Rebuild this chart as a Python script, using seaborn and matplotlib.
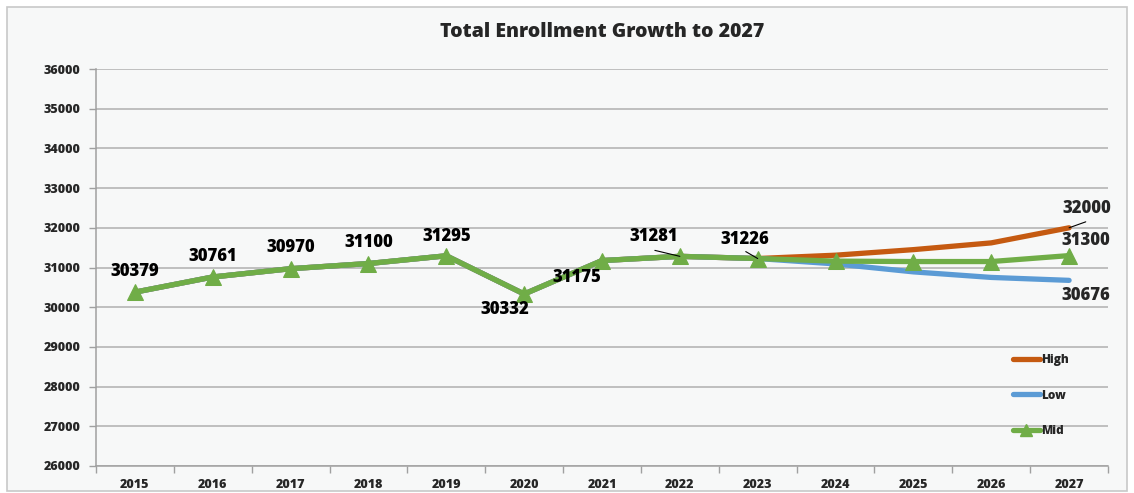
import matplotlib
matplotlib.use("Agg")
import matplotlib.pyplot as plt
import seaborn as sns
import pandas as pd
from matplotlib.patches import Rectangle
from matplotlib.lines import Line2D

years = ["2015", "2016", "2017", "2018", "2019", "2020", "2021", "2022", "2023", "2024", "2025", "2026", "2027"]
high = [30379, 30761, 30970, 31100, 31295, 30332, 31175, 31281, 31226, 31310, 31450, 31620, 32000]
low = [30379, 30761, 30970, 31100, 31295, 30332, 31175, 31281, 31226, 31090, 30890, 30750, 30676]
mid = [30379, 30761, 30970, 31100, 31295, 30332, 31175, 31281, 31226, 31160, 31150, 31150, 31300]

mid_label_idx = list(range(9))
end_labels = {"High": 32000, "Mid": 31300, "Low": 30676}

sns.set_theme(style="white")
plt.rcParams['font.family'] = ['Open Sans', 'DejaVu Sans']
W = "heavy"
plt.rcParams['font.weight'] = W

fig = plt.figure(figsize=(11.34, 4.93), dpi=100, facecolor="white")
fig.patches.append(Rectangle((7/1134, 2/493), 1120/1134, 484/493, transform=fig.transFigure,
                             facecolor="#f7f8f8", edgecolor="#c8c8c8", linewidth=1.2, zorder=-10))
ax = fig.add_axes([96/1134, 1-466/493, 1012/1134, 397/493])
ax.set_facecolor("none")

x = list(range(len(years)))
df = pd.DataFrame({"x": x, "High": high, "Low": low, "Mid": mid})

c_high, c_low, c_mid = "#c55a11", "#5b9bd5", "#70ad47"
sns.lineplot(data=df, x="x", y="High", ax=ax, color=c_high, linewidth=3.8, zorder=3)
sns.lineplot(data=df, x="x", y="Low", ax=ax, color=c_low, linewidth=3.8, zorder=3)
sns.lineplot(data=df, x="x", y="Mid", ax=ax, color=c_mid, linewidth=3.8, marker="^",
             markersize=11, markeredgecolor=c_mid, zorder=4)

ax.set_ylim(26000, 36000)
ax.set_xlim(-0.5, len(years) - 0.5)
ax.set_yticks(range(26000, 36001, 1000))
ax.set_yticklabels([str(v) for v in range(26000, 36001, 1000)], fontsize=9, fontweight=W)
ax.set_xticks([i - 0.5 for i in range(len(years) + 1)])
ax.set_xticklabels([])
ax.set_xticks(x, minor=True)
ax.set_xticklabels(years, minor=True, fontsize=9, fontweight=W)
ax.tick_params(axis="x", which="major", length=5, color="#a0a0a0", width=1, direction="out", bottom=True)
ax.tick_params(axis="x", which="minor", length=0, pad=9)
ax.tick_params(axis="y", length=5, color="#a0a0a0", width=1, left=True, pad=6)
ax.set_xlabel("")
ax.set_ylabel("")
ax.grid(axis="y", color="#b0b0b0", linewidth=1.1)
ax.grid(axis="x", visible=False)
ax.set_axisbelow(True)
for s in ["top", "right"]:
    ax.spines[s].set_visible(False)
for s in ["left", "bottom"]:
    ax.spines[s].set_color("#a0a0a0")
    ax.spines[s].set_linewidth(1.1)

ax.set_title("Total Enrollment Growth to 2027", fontsize=14, fontweight=W, pad=23)

lab_fs = 12
offsets = {0: (0, 15), 1: (0, 15), 2: (0, 15), 3: (0, 15), 4: (0, 14),
           5: (-14, -11), 6: (-18, -12), 7: (-19, 14), 8: (-9, 14)}
for i in mid_label_idx:
    dx, dy = offsets[i]
    ax.annotate(str(mid[i]), xy=(x[i], mid[i]), xytext=(dx, dy), textcoords="offset points",
                ha="center", va="center", fontsize=lab_fs, fontweight=W, color="black", zorder=6)

last = len(years) - 1
ax.annotate(str(end_labels["High"]), xy=(x[last], high[last]), xytext=(13, 14), textcoords="offset points",
            ha="center", va="center", fontsize=lab_fs, fontweight=W, zorder=6)
ax.annotate(str(end_labels["Mid"]), xy=(x[last], mid[last]), xytext=(12, 11), textcoords="offset points",
            ha="center", va="center", fontsize=lab_fs, fontweight=W, zorder=6)
ax.annotate(str(end_labels["Low"]), xy=(x[last], low[last]), xytext=(12, -11), textcoords="offset points",
            ha="center", va="center", fontsize=lab_fs, fontweight=W, zorder=6)

# leader lines (label to point)
leaders = [(x[7], mid[7], (-18, 4.3)), (x[8], mid[8], (-8.6, 5)), (x[last], high[last], (12, 4.3))]
for lx, ly, off in leaders:
    ax.annotate("", xy=(lx, ly), xytext=off, textcoords="offset points",
                arrowprops=dict(arrowstyle="-", color="black", lw=0.8, shrinkA=0, shrinkB=0), zorder=5)

handles = [Line2D([], [], color=c_high, lw=3.8, solid_capstyle="round"),
           Line2D([], [], color=c_low, lw=3.8, solid_capstyle="round"),
           Line2D([], [], color=c_mid, lw=3.8, marker="^", markersize=9, solid_capstyle="round")]
leg = ax.legend(handles, ["High", "Low", "Mid"], loc="upper left", bbox_to_anchor=(0.9, 0.297),
                frameon=False, fontsize=8.5, labelspacing=2.0, handlelength=2.3, handletextpad=0.1,
                borderpad=0)
for t in leg.get_texts():
    t.set_fontweight(W)

fig.savefig("out.png", dpi=100, facecolor="white")
